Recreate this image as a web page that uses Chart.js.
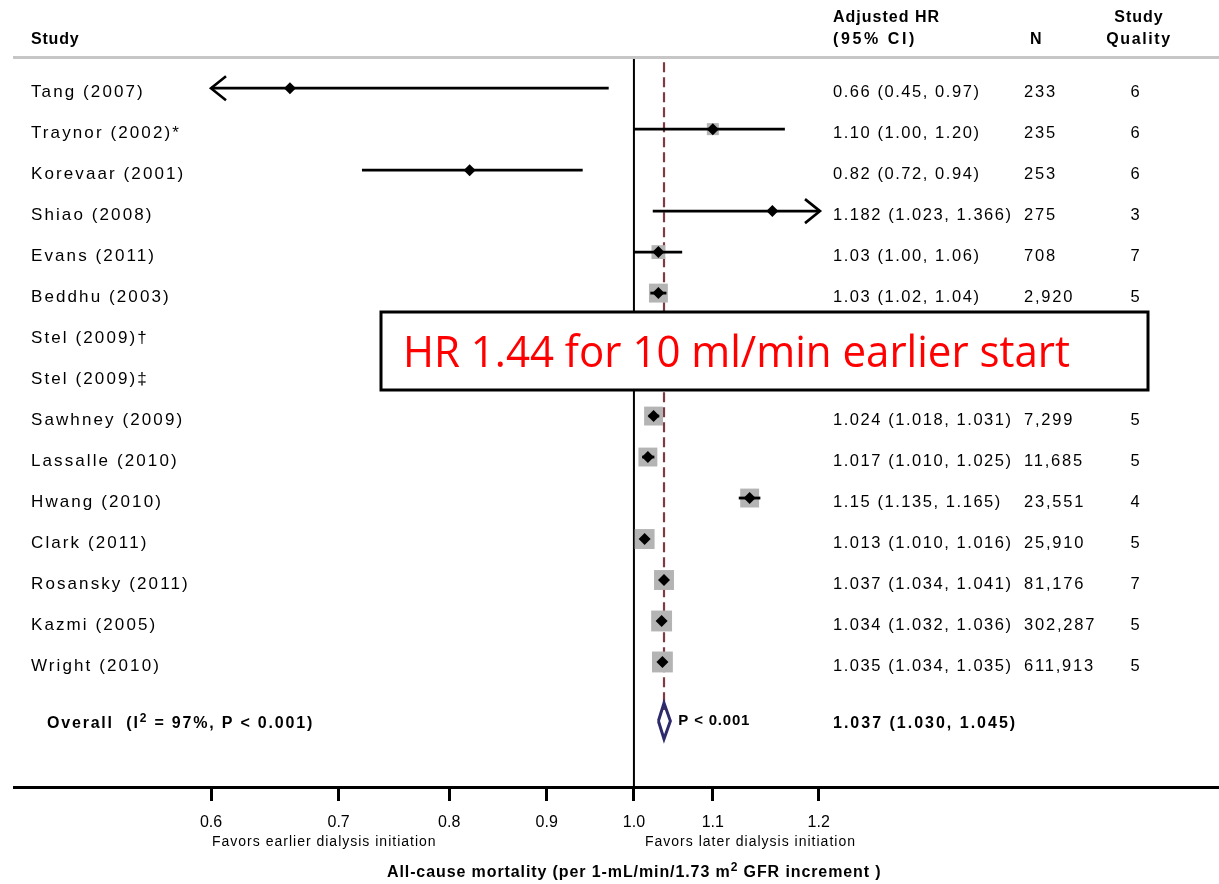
<!DOCTYPE html>
<html>
<head>
<meta charset="utf-8">
<script src="https://cdn.jsdelivr.net/npm/chart.js@4.4.0/dist/chart.umd.min.js"></script>
<style>
  html, body { margin: 0; padding: 0; background: #fff; }
  canvas { display: block; }
</style>
</head>
<body>
<canvas id="forest" width="1219" height="884"></canvas>
<script>
// Datos del forest plot
const studies = ['Tang (2007)', 'Traynor (2002)*', 'Korevaar (2001)', 'Shiao (2008)', 'Evans (2011)',
  'Beddhu (2003)', 'Stel (2009)†', 'Stel (2009)‡', 'Sawhney (2009)', 'Lassalle (2010)', 'Hwang (2010)',
  'Clark (2011)', 'Rosansky (2011)', 'Kazmi (2005)', 'Wright (2010)'];
const hr    = [0.66, 1.10, 0.82, 1.182, 1.03, 1.03, null, null, 1.024, 1.017, 1.15, 1.013, 1.037, 1.034, 1.035];
const lower = [0.45, 1.00, 0.72, 1.023, 1.00, 1.02, null, null, 1.018, 1.010, 1.135, 1.010, 1.034, 1.032, 1.034];
const upper = [0.97, 1.20, 0.94, 1.366, 1.06, 1.04, null, null, 1.031, 1.025, 1.165, 1.016, 1.041, 1.036, 1.035];
const hrText = ['0.66 (0.45, 0.97)', '1.10 (1.00, 1.20)', '0.82 (0.72, 0.94)', '1.182 (1.023, 1.366)',
  '1.03 (1.00, 1.06)', '1.03 (1.02, 1.04)', '', '', '1.024 (1.018, 1.031)', '1.017 (1.010, 1.025)',
  '1.15 (1.135, 1.165)', '1.013 (1.010, 1.016)', '1.037 (1.034, 1.041)', '1.034 (1.032, 1.036)',
  '1.035 (1.034, 1.035)'];
const sampleN = [233, 235, 253, 275, 708, 2920, null, null, 7299, 11685, 23551, 25910, 81176, 302287, 611913];
const quality = [6, 6, 6, 3, 7, 5, null, null, 5, 5, 4, 5, 7, 5, 5];
const weights = [0.2, 3.3, 0.2, 0.2, 4.4, 8.2, null, null, 8.2, 8.2, 8.2, 9.1, 9.1, 10, 10];

const overallHR = 1.037;
const overallLo = 1.030;
const overallHi = 1.045;
const overallText = '1.037 (1.030, 1.045)';
const i2 = 97;

// la figura original coloca la etiqueta 1.2 donde cae 1.25
const tickValues = [0.6, 0.7, 0.8, 0.9, 1.0, 1.1, 1.25];
const tickLabels = ['0.6', '0.7', '0.8', '0.9', '1.0', '1.1', '1.2'];

const SANS = "'Liberation Sans', Arial, Helvetica, sans-serif";
const OVERALL_ROW = 15.44;
const DIAMOND_HALF = 0.44;

function txt(ctx, s, x, y, o = {}) {
  ctx.save();
  ctx.font = `${o.bold ? 'bold ' : ''}${o.size || 16}px ${o.family || SANS}`;
  ctx.letterSpacing = (o.ls || 0) + 'px';
  ctx.textAlign = o.align || 'left';
  ctx.textBaseline = 'middle';
  ctx.fillStyle = o.color || '#000';
  ctx.fillText(s, x, y);
  const w = ctx.measureText(s).width;
  ctx.restore();
  return w;
}

// texto con superindice: partes [texto, esSuper]
function txtSup(ctx, parts, x, y, o) {
  let cx = x;
  parts.forEach(([s, sup]) => {
    const w = sup
      ? txt(ctx, s, cx, y - 5, { ...o, size: o.size * 0.75 })
      : txt(ctx, s, cx, y, o);
    cx += w;
  });
}

const forestPlugin = {
  id: 'forestText',
  afterDraw(chart) {
    const ctx = chart.ctx;
    const xs = chart.scales.x;
    const ys = chart.scales.y;

    // linea bajo cabecera
    ctx.save();
    ctx.strokeStyle = '#c6c6c6';
    ctx.lineWidth = 3;
    ctx.beginPath(); ctx.moveTo(13, 57.5); ctx.lineTo(1219, 57.5); ctx.stroke();
    // eje inferior
    ctx.strokeStyle = '#000';
    ctx.beginPath(); ctx.moveTo(13, 787.5); ctx.lineTo(1219, 787.5); ctx.stroke();
    ctx.restore();

    // flechas de IC truncados
    ctx.save();
    ctx.strokeStyle = '#000';
    ctx.lineWidth = 2.6;
    studies.forEach((_, i) => {
      if (hr[i] == null) return;
      const y = ys.getPixelForValue(i);
      if (lower[i] < xs.min) {
        const x = xs.getPixelForValue(xs.min);
        ctx.beginPath(); ctx.moveTo(x + 15, y - 12); ctx.lineTo(x, y); ctx.lineTo(x + 15, y + 12); ctx.stroke();
      }
      if (upper[i] > xs.max) {
        const x = xs.getPixelForValue(xs.max);
        ctx.beginPath(); ctx.moveTo(x - 15, y - 12); ctx.lineTo(x, y); ctx.lineTo(x - 15, y + 12); ctx.stroke();
      }
    });
    ctx.restore();

    // cabeceras
    txt(ctx, 'Study', 31, 40, { bold: true, size: 16, ls: 0.8 });
    txt(ctx, 'Adjusted HR', 833, 18, { bold: true, size: 16, ls: 1 });
    txt(ctx, '(95% CI)', 833, 40, { bold: true, size: 16, ls: 2.6 });
    txt(ctx, 'N', 1030, 40, { bold: true, size: 16 });
    txt(ctx, 'Study', 1139, 18, { bold: true, size: 16, ls: 1, align: 'center' });
    txt(ctx, 'Quality', 1139, 40, { bold: true, size: 16, ls: 1.6, align: 'center' });

    // filas
    studies.forEach((s, i) => {
      const y = ys.getPixelForValue(i) + 4;
      txt(ctx, s, 31, y, { size: 17, ls: 2.1 });
      if (hrText[i]) txt(ctx, hrText[i], 833, y, { size: 16.5, ls: 1.55 });
      if (sampleN[i] != null) txt(ctx, sampleN[i].toLocaleString('en-US'), 1024, y, { size: 16.5, ls: 1.8 });
      if (quality[i] != null) txt(ctx, String(quality[i]), 1135, y, { size: 16.5, align: 'center' });
    });

    // fila global
    const oy = ys.getPixelForValue(OVERALL_ROW) + 3;
    txtSup(ctx, [['Overall  (I', false], ['2', true], [` = ${i2}%, P < 0.001)`, false]], 47, oy,
      { bold: true, size: 16, ls: 1.8 });
    txt(ctx, overallText, 833, oy, { bold: true, size: 16, ls: 2 });
    txt(ctx, 'P < 0.001', xs.getPixelForValue(overallHi) + 8, ys.getPixelForValue(OVERALL_ROW),
      { bold: true, size: 15, ls: 0.8 });

    // textos del eje
    txt(ctx, 'Favors earlier dialysis initiation', 212, 842, { size: 14, ls: 1 });
    txt(ctx, 'Favors later dialysis initiation', 645, 842, { size: 14, ls: 1 });
    txtSup(ctx, [['All-cause mortality (per 1-mL/min/1.73 m', false], ['2', true], [' GFR increment )', false]],
      387, 873, { bold: true, size: 16, ls: 0.9 });

    // recuadro de anotacion
    ctx.save();
    ctx.fillStyle = '#fff';
    ctx.fillRect(381, 312, 767, 78);
    ctx.strokeStyle = '#000';
    ctx.lineWidth = 3;
    ctx.strokeRect(381, 312, 767, 78);
    ctx.font = "43px 'Open Sans', 'Noto Sans', sans-serif";
    ctx.fillStyle = '#ff0000';
    ctx.textBaseline = 'alphabetic';
    ctx.fillText('HR 1.44 for 10 ml/min earlier start', 403, 367, 667);
    ctx.restore();
  }
};

const rowPts = studies.map((_, i) => i).filter(i => hr[i] != null);

const ciSets = rowPts.map(i => ({
  type: 'scatter',
  showLine: true,
  data: [{ x: lower[i], y: i }, { x: upper[i], y: i }],
  borderColor: '#000',
  borderWidth: 2.8,
  pointRadius: 0,
  clip: 0
}));

new Chart(document.getElementById('forest'), {
  type: 'scatter',
  data: {
    datasets: [
      {
        // estimaciones puntuales
        data: rowPts.map(i => ({ x: hr[i], y: i })),
        pointStyle: 'rectRot',
        pointRadius: 6,
        backgroundColor: '#000',
        borderWidth: 0
      },
      ...ciSets,
      {
        // cuadrados de peso
        data: rowPts.map(i => ({ x: hr[i], y: i })),
        pointStyle: 'rect',
        pointRadius: rowPts.map(i => Math.sqrt(weights[i]) * 6.6 / Math.SQRT2),
        backgroundColor: '#b4b4b4',
        borderWidth: 0
      },
      {
        // diamante global
        showLine: true,
        data: [
          { x: overallLo, y: OVERALL_ROW },
          { x: overallHR, y: OVERALL_ROW - DIAMOND_HALF },
          { x: overallHi, y: OVERALL_ROW },
          { x: overallHR, y: OVERALL_ROW + DIAMOND_HALF },
          { x: overallLo, y: OVERALL_ROW }
        ],
        borderColor: '#2d2b6b',
        borderWidth: 3,
        borderJoinStyle: 'miter',
        pointRadius: 0
      },
      {
        // linea discontinua en el efecto global
        showLine: true,
        data: [{ x: overallHR, y: -0.63 }, { x: overallHR, y: 15.17 }],
        borderColor: '#7d3b44',
        borderWidth: 2.2,
        borderDash: [10, 5],
        pointRadius: 0
      },
      {
        // linea de no efecto
        showLine: true,
        data: [{ x: 1, y: -0.76 }, { x: 1, y: 17.05 }],
        borderColor: '#000',
        borderWidth: 2,
        pointRadius: 0
      }
    ]
  },
  options: {
    responsive: false,
    animation: false,
    layout: { padding: { left: 211, right: 399, top: 57, bottom: 37 } },
    plugins: { legend: { display: false }, tooltip: { enabled: false } },
    scales: {
      x: {
        type: 'logarithmic',
        min: 0.6,
        max: 1.252,
        afterBuildTicks: scale => { scale.ticks = tickValues.map(v => ({ value: v })); },
        afterFit: scale => { scale.height = 60; },
        border: { display: false },
        grid: {
          drawOnChartArea: false,
          drawTicks: true,
          tickLength: 14,
          tickWidth: 3,
          tickColor: '#000'
        },
        ticks: {
          autoSkip: false,
          maxRotation: 0,
          padding: 12,
          color: '#000',
          font: { family: SANS, size: 16 },
          callback: (value, index) => tickLabels[index]
        }
      },
      y: {
        type: 'linear',
        display: false,
        reverse: true,
        min: -0.76,
        max: 17.05
      }
    }
  },
  plugins: [forestPlugin]
});
</script>
</body>
</html>
